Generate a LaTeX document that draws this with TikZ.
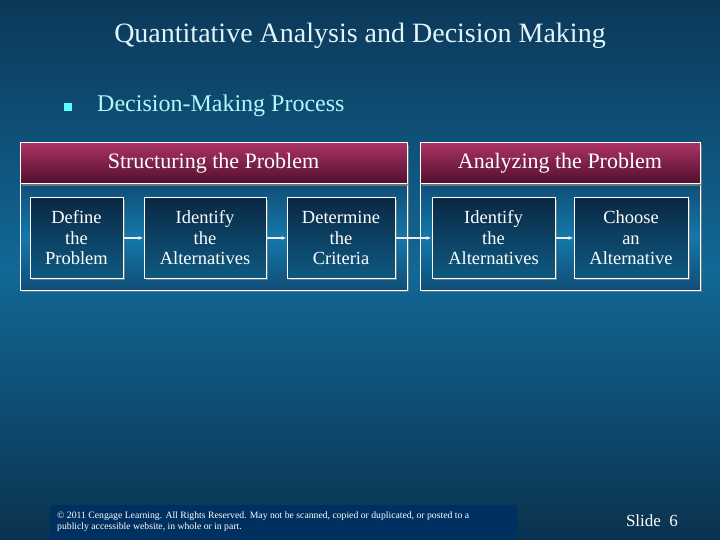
\documentclass[tikz,border=0pt]{standalone}
\usepackage{fontspec}
\setmainfont{Liberation Serif}
\usetikzlibrary{arrows.meta,shadows,positioning}
\definecolor{bgtop}{RGB}{12,56,88}
\definecolor{bgmid}{RGB}{18,104,150}
\definecolor{bgbot}{RGB}{10,50,78}
\definecolor{maroontop}{RGB}{170,50,100}
\definecolor{maroonbot}{RGB}{80,15,45}
\definecolor{boxtop}{RGB}{10,40,68}
\definecolor{boxbot}{RGB}{14,90,130}
\definecolor{paneltop}{RGB}{16,78,120}
\definecolor{panelbot}{RGB}{20,120,170}
\definecolor{cyanbul}{RGB}{90,250,255}
\definecolor{cyantext}{RGB}{175,250,250}
\definecolor{footbox}{RGB}{0,48,96}
\tikzset{
  header/.style={draw=white,line width=1pt,top color=maroontop,bottom color=maroonbot,
    text=white,font=\fontsize{22}{24}\selectfont,minimum height=41pt,inner sep=0pt,
    drop shadow={shadow xshift=2pt,shadow yshift=-2pt,opacity=.8}},
  panel/.style={draw=white,line width=1pt,top color=paneltop,bottom color=paneltop,middle color=panelbot,
    minimum height=106pt,inner sep=0pt,
    drop shadow={shadow xshift=2pt,shadow yshift=-2pt,opacity=.8}},
  stepbox/.style={draw=white,line width=1pt,top color=boxtop,bottom color=boxbot,
    text=white,align=center,font=\fontsize{18.5}{20.5}\selectfont,minimum height=80pt,inner sep=0pt,
    drop shadow={shadow xshift=2pt,shadow yshift=-2pt,opacity=.8}},
  flow/.style={draw=white!85!gray,line width=1.2pt,-{Latex[length=5pt,width=4pt]}}
}
\begin{document}
\begin{tikzpicture}[x=1pt,y=-1pt]
	\useasboundingbox (0,0) rectangle (720,540);
	\shade[top color=bgtop,bottom color=bgbot,middle color=bgmid] (0,0) rectangle (720,540);
	% title and bullet
	\node (title) at (360,36) [text=white!88!cyan,font=\fontsize{28}{30}\selectfont] {Quantitative Analysis and Decision Making};
	\node (bul) at (68,107) [fill=cyanbul,minimum size=8pt,inner sep=0pt] {};
	\node (topic) at (97,106) [anchor=west,inner sep=0pt,text=cyantext,font=\fontsize{24}{26}\selectfont] {Decision-Making Process};
	% panels
	\node (bodyS) at (213.5,237) [panel,minimum width=387pt] {};
	\node (hdrS) at (213.5,163.5) [header,minimum width=387pt] {Structuring the Problem};
	\node (bodyA) at (560,237) [panel,minimum width=280pt] {};
	\node (hdrA) at (560,163.5) [header,minimum width=280pt] {Analyzing the Problem};
	% steps
	\node (define) at (76.5,238) [stepbox,minimum width=93pt] {Define\\the\\Problem};
	\node (ident) at (205,238) [stepbox,minimum width=122pt] {Identify\\the\\Alternatives};
	\node (crit) at (341,238) [stepbox,minimum width=108pt] {Determine\\the\\Criteria};
	\node (identA) at (493.5,238) [stepbox,minimum width=123pt] {Identify\\the\\Alternatives};
	\node (choose) at (631,238) [stepbox,minimum width=114pt] {Choose\\an\\Alternative};
	\draw[flow] (define)--(ident);
	\draw[flow] (ident)--(crit);
	\draw[flow] (crit)--(identA);
	\draw[flow] (identA)--(choose);
	% footer
	\node (foot) at (50,505) [anchor=north west,fill=footbox,minimum width=467pt,minimum height=35pt,inner sep=0pt] {};
	\node (copy) at (57,521.5) [anchor=west,inner sep=0pt,text=white,align=left,font=\fontsize{9.7}{11.5}\selectfont] {\copyright{} 2011 Cengage Learning. All Rights Reserved. May not be scanned, copied or duplicated, or posted to a\\publicly accessible website, in whole or in part.};
	\node (slide) at (652,521) [text=white,font=\fontsize{17}{20}\selectfont] {Slide\enspace6};
\end{tikzpicture}
\end{document}
